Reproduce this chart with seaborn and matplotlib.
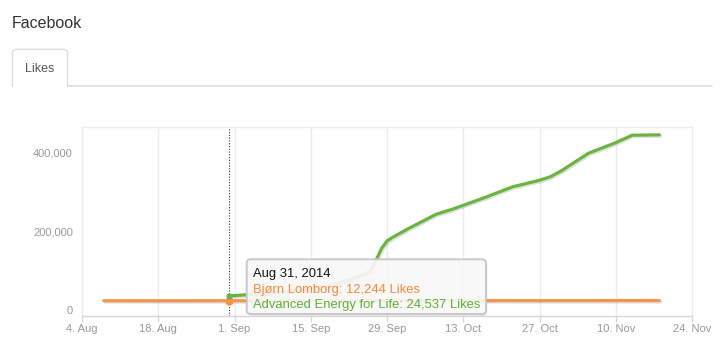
import pandas as pd
import seaborn as sns
import matplotlib.pyplot as plt
import matplotlib.patheffects as pe
from matplotlib.patches import FancyBboxPatch, Rectangle
from matplotlib.lines import Line2D
from matplotlib.transforms import IdentityTransform, ScaledTranslation
from matplotlib.ticker import FuncFormatter
import matplotlib.dates as mdates

# values
green_dates = ['2014-08-31', '2014-09-07', '2014-09-14', '2014-09-19', '2014-09-23',
               '2014-09-26', '2014-09-27', '2014-09-28', '2014-09-29', '2014-09-30',
               '2014-10-03', '2014-10-08', '2014-10-11', '2014-10-17', '2014-10-22',
               '2014-10-27', '2014-10-29', '2014-10-31', '2014-11-05', '2014-11-10',
               '2014-11-13', '2014-11-18']
green_likes = [24537, 31000, 41000, 52000, 69000,
               88000, 116000, 146000, 165000, 174000,
               197000, 233000, 246000, 276000, 303000,
               320000, 329000, 344000, 389000, 416000,
               435000, 436000]

orange_dates = ['2014-08-08', '2014-08-31', '2014-10-01', '2014-11-01', '2014-11-18']
orange_likes = [12100, 12244, 12400, 12500, 12600]

tick_dates = ['2014-08-04', '2014-08-18', '2014-09-01', '2014-09-15', '2014-09-29',
              '2014-10-13', '2014-10-27', '2014-11-10', '2014-11-24']
y_ticks = [0, 200000, 400000]

hover_date = '2014-08-31'
tooltip_lines = ['Aug 31, 2014',
                 'Bjørn Lomborg: 12,244 Likes',
                 'Advanced Energy for Life: 24,537 Likes']

ORANGE = '#F6954A'
GREEN = '#6BB43F'
W, H = 722, 356

green = pd.DataFrame({'date': pd.to_datetime(green_dates), 'likes': green_likes})
orange = pd.DataFrame({'date': pd.to_datetime(orange_dates), 'likes': orange_likes})

sns.set_style('white')
plt.rcParams['font.family'] = ['Liberation Sans', 'DejaVu Sans']

fig = plt.figure(figsize=(W / 100, H / 100), dpi=100)
ax = fig.add_axes([82 / W, 1 - 316 / H, (692 - 82) / W, (316 - 127) / H])

shadow = [pe.SimpleLineShadow(offset=(1, -1), alpha=0.12, shadow_color='black'), pe.Normal()]
sns.lineplot(data=orange, x='date', y='likes', color=ORANGE, lw=2.3, ax=ax,
             path_effects=shadow)
sns.lineplot(data=green, x='date', y='likes', color=GREEN, lw=2.3, ax=ax,
             path_effects=shadow)

# hover markers and crosshair
hd = pd.to_datetime(hover_date)
ax.axvline(hd, color='#333333', lw=0.8, ls=(0, (1, 1.5)), zorder=1)
ax.plot([hd], [orange_likes[1]], 'o', color=ORANGE, ms=5, zorder=4)
ax.plot([hd], [green_likes[0]], 'o', color=GREEN, ms=3.5, zorder=4)

ax.set_xlim(pd.Timestamp('2014-08-04'), pd.Timestamp('2014-11-24'))
ax.set_ylim(-26800, 456000)
ax.set_xticks(pd.to_datetime(tick_dates))
ax.xaxis.set_major_formatter(FuncFormatter(
    lambda v, p: '{}. {}'.format(mdates.num2date(v).day, mdates.num2date(v).strftime('%b'))))
ax.set_yticks(y_ticks)
ax.yaxis.set_major_formatter(FuncFormatter(lambda v, p: '{:,.0f}'.format(v)))
ax.set_xlabel('')
ax.set_ylabel('')

ax.grid(axis='x', color='#ececec', lw=1)
ax.grid(axis='y', visible=False)
for s in ['top', 'right', 'left']:
    ax.spines[s].set_color('#ececec')
    ax.spines[s].set_linewidth(1)
ax.spines['bottom'].set_color('#d8d8d8')
ax.spines['bottom'].set_linewidth(1)
ax.tick_params(axis='x', length=4.5, width=1, color='#d8d8d8', pad=1.5,
               labelsize=8, labelcolor='#999999', direction='out', bottom=True)
ax.tick_params(axis='y', length=0, pad=6.5, labelsize=8, labelcolor='#999999')
for lab in ax.get_yticklabels():
    lab.set_transform(lab.get_transform() + ScaledTranslation(0, -0.04, fig.dpi_scale_trans))

ident = IdentityTransform()

# header and tab (only the top corners are rounded, no bottom edge)
fig.text(12, H - 23, 'Facebook', transform=ident, fontsize=11.5, color='#333333', va='center')
tab = FancyBboxPatch((12.5, H - 100), 55, 50.7, boxstyle='round,pad=0,rounding_size=4',
                     transform=ident, fc='white', ec='#dddddd', lw=1, zorder=2)
fig.add_artist(tab)
fig.add_artist(Rectangle((5, H - 110), 70, 23.5, transform=ident, fc='white', ec='none', zorder=2.5))
fig.add_artist(Line2D([67.5, 712], [H - 86, H - 86], transform=ident, color='#dddddd', lw=1.2, zorder=3))
fig.text(40, H - 68.5, 'Likes', transform=ident, fontsize=9, color='#555555', va='center', ha='center')

# tooltip
shadow_box = FancyBboxPatch((248.5, H - 316), 239, 55, boxstyle='round,pad=0,rounding_size=4',
                            transform=ident, fc='black', ec='none', alpha=0.07, zorder=5)
fig.add_artist(shadow_box)
box = FancyBboxPatch((246.7, H - 314), 239.3, 54.7, boxstyle='round,pad=0,rounding_size=4',
                     transform=ident, fc='#f9f9f9', ec='#c4c4c4', lw=1.4, alpha=0.92, zorder=6)
fig.add_artist(box)
for txt, yy, c in zip(tooltip_lines, [273.5, 289.5, 305], ['#111111', '#F5893A', '#5EAF35']):
    fig.text(253, H - yy, txt, transform=ident, fontsize=9.4, color=c, va='center', zorder=7)

plt.savefig('out.png', dpi=100)
